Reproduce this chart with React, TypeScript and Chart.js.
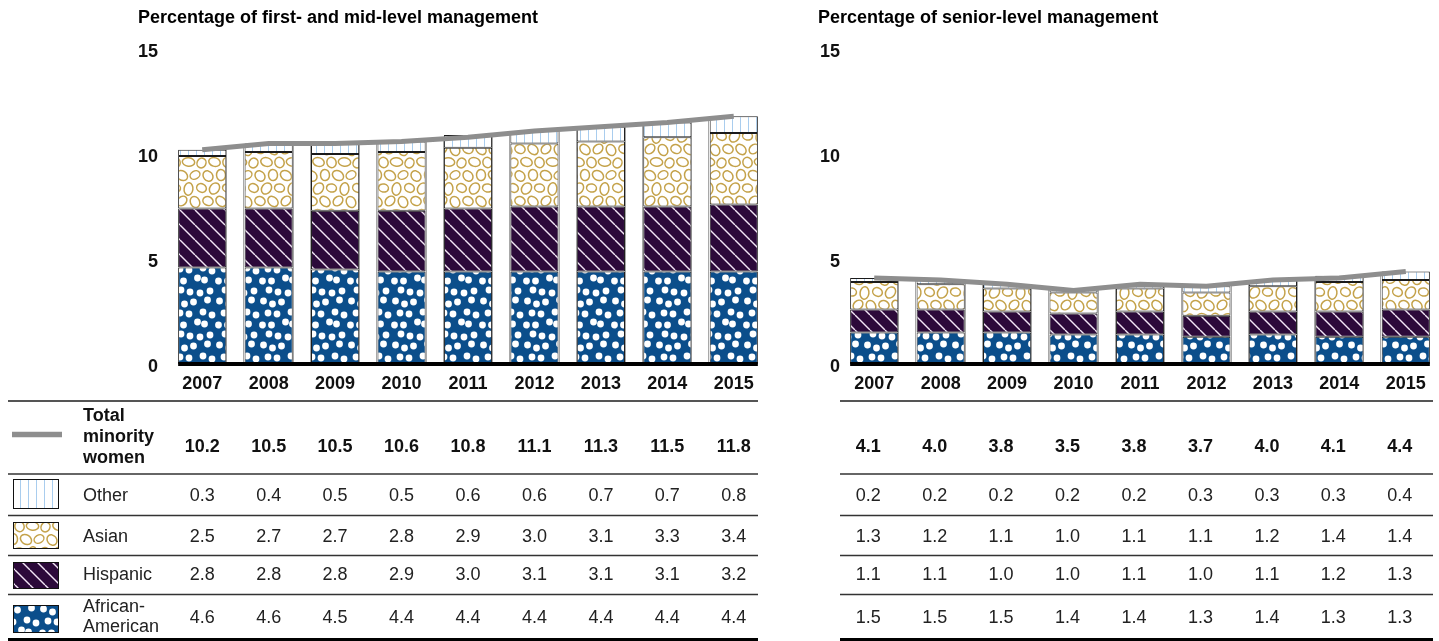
import React, { useEffect, useRef } from 'react';
import { Chart, registerables } from 'chart.js';

Chart.register(...registerables);

// ---------- DATA ----------
const YEARS = ['2007', '2008', '2009', '2010', '2011', '2012', '2013', '2014', '2015'];

const FIRST_TOTAL = [10.2, 10.5, 10.5, 10.6, 10.8, 11.1, 11.3, 11.5, 11.8];
const FIRST_OTHER = [0.3, 0.4, 0.5, 0.5, 0.6, 0.6, 0.7, 0.7, 0.8];
const FIRST_ASIAN = [2.5, 2.7, 2.7, 2.8, 2.9, 3.0, 3.1, 3.3, 3.4];
const FIRST_HISPANIC = [2.8, 2.8, 2.8, 2.9, 3.0, 3.1, 3.1, 3.1, 3.2];
const FIRST_AFRICAN = [4.6, 4.6, 4.5, 4.4, 4.4, 4.4, 4.4, 4.4, 4.4];

const SENIOR_TOTAL = [4.1, 4.0, 3.8, 3.5, 3.8, 3.7, 4.0, 4.1, 4.4];
const SENIOR_OTHER = [0.2, 0.2, 0.2, 0.2, 0.2, 0.3, 0.3, 0.3, 0.4];
const SENIOR_ASIAN = [1.3, 1.2, 1.1, 1.0, 1.1, 1.1, 1.2, 1.4, 1.4];
const SENIOR_HISPANIC = [1.1, 1.1, 1.0, 1.0, 1.1, 1.0, 1.1, 1.2, 1.3];
const SENIOR_AFRICAN = [1.5, 1.5, 1.5, 1.4, 1.4, 1.3, 1.4, 1.3, 1.3];

const Y_TICKS = [0, 5, 10, 15];
const TITLE_FIRST = 'Percentage of first- and mid-level management';
const TITLE_SENIOR = 'Percentage of senior-level management';
const ROW_LABELS = ['Other', 'Asian', 'Hispanic', 'African-American'];

// ---------- STYLE ----------
const FONT = "'Liberation Sans', Arial, Helvetica, sans-serif";
const LINE_GRAY = '#8e8e8e';
const BLUE = '#0b4e8b';
const PURPLE = '#2c0a3a';
const GOLD = '#c4a24a';
const LIGHT_BLUE = '#a9cdee';

function tile(w: number, h: number, draw: (c: CanvasRenderingContext2D) => void) {
  const cv = document.createElement('canvas');
  cv.width = w;
  cv.height = h;
  const c = cv.getContext('2d')!;
  draw(c);
  return c.createPattern(cv, 'repeat') as CanvasPattern;
}

function makePatterns() {
  const dots = tile(44, 44, (c) => {
    c.fillStyle = BLUE;
    c.fillRect(0, 0, 44, 44);
    c.fillStyle = '#ffffff';
    const jit = [
      [1, -1, 2, 0], [-1, 2, -2, 1], [2, 0, -1, -2], [0, -2, 1, 2],
    ];
    const jity = [
      [0, 1, -1, 2], [1, -2, 0, 1], [-1, 1, 2, 0], [2, 0, -2, -1],
    ];
    for (let i = 0; i < 4; i++) {
      for (let j = 0; j < 4; j++) {
        const x = 11 * i + (j % 2) * 5.5 + 3 + jit[j][i];
        const y = 11 * j + 5 + jity[j][i];
        for (const ox of [-44, 0, 44]) {
          for (const oy of [-44, 0, 44]) {
            c.beginPath();
            c.arc(x + ox, y + oy, 3.4, 0, Math.PI * 2);
            c.fill();
          }
        }
      }
    }
  });
  const stripes = tile(15, 15, (c) => {
    c.fillStyle = PURPLE;
    c.fillRect(0, 0, 15, 15);
    c.strokeStyle = '#f2e6f5';
    c.lineWidth = 1.4;
    for (const x of [-15, 0, 15]) {
      c.beginPath();
      c.moveTo(x, 0);
      c.lineTo(x + 15, 15);
      c.stroke();
    }
  });
  const blobs = tile(52, 52, (c) => {
    c.fillStyle = '#ffffff';
    c.fillRect(0, 0, 52, 52);
    c.strokeStyle = GOLD;
    c.lineWidth = 1.5;
    const E = [
      [6.5, 6, 5.8, 4.3, 0.3], [19.5, 6.5, 5.2, 4.6, 1.2], [32.5, 6, 6.2, 4.2, 0.1], [45.5, 7, 5.0, 4.4, 2.0],
      [13, 19, 5.6, 4.5, 1.5], [26, 19.5, 6.0, 4.6, 0.6], [39, 19, 5.2, 4.0, 2.6], [0, 20, 5.6, 4.6, 0.9],
      [6.5, 32.5, 6.0, 4.6, 2.2], [19.5, 32, 5.0, 4.0, 0.2], [32.5, 33, 6.2, 4.4, 1.7], [45.5, 32, 5.0, 4.2, 0.5],
      [13, 45.5, 5.8, 4.4, 0.8], [26, 45, 5.4, 4.2, 2.4], [39, 46, 5.8, 4.5, 1.1], [0, 45, 5.2, 4.4, 0.4],
    ];
    for (const [x, y, rx, ry, r] of E) {
      for (const ox of [-52, 0, 52]) {
        for (const oy of [-52, 0, 52]) {
          c.beginPath();
          c.ellipse(x + ox, y + oy, rx, ry, r, 0, Math.PI * 2);
          c.stroke();
        }
      }
    }
  });
  const vlines = tile(8, 8, (c) => {
    c.fillStyle = '#ffffff';
    c.fillRect(0, 0, 8, 8);
    c.strokeStyle = LIGHT_BLUE;
    c.lineWidth = 1;
    c.beginPath();
    c.moveTo(4.5, 0);
    c.lineTo(4.5, 8);
    c.stroke();
  });
  return { dots, stripes, blobs, vlines };
}

type Cfg = {
  title: string;
  titleX: number;
  totals: number[];
  other: number[];
  asian: number[];
  hispanic: number[];
  african: number[];
  yAxisWidth: number;
  yTickPad: number;
  padRight: number;
  legend: boolean;
  valueShift: number;
  tableLeft: number;
  tableRight: number;
};

const ROW_Y = { top: 401, total: 447, sep: [474, 515.5, 555.5, 594.5], rows: [496.5, 537, 575, 618], bottom: 639 };

function buildChart(canvas: HTMLCanvasElement, cfg: Cfg, P: ReturnType<typeof makePatterns>) {
  const barCommon = {
    type: 'bar' as const,
    borderColor: '#1a1a1a',
    borderWidth: 1,
    borderSkipped: false,
    stack: 'bars',
    order: 1,
    barPercentage: 0.725,
    categoryPercentage: 1,
  };

  const gapPlugin = {
    id: 'gapCols',
    beforeDatasetsDraw(chart: any) {
      const ctx = chart.ctx;
      const meta = chart.getDatasetMeta(1);
      const y = chart.scales.y;
      const bot = y.getPixelForValue(0);
      ctx.save();
      for (let i = 0; i < meta.data.length - 1; i++) {
        const a = meta.data[i];
        const b = meta.data[i + 1];
        const l = a.x + a.width / 2;
        const r = b.x - b.width / 2;
        const t = y.getPixelForValue((cfg.totals[i] + cfg.totals[i + 1]) / 2);
        ctx.fillStyle = '#ffffff';
        ctx.fillRect(l, t, r - l, bot - t);
        ctx.strokeStyle = '#a8a8a8';
        ctx.lineWidth = 1;
        ctx.strokeRect(Math.round(l) + 0.5, Math.round(t) + 0.5, Math.round(r - l) - 1, bot - t);
      }
      ctx.restore();
    },
    afterDatasetsDraw(chart: any) {
      const ctx = chart.ctx;
      const meta = chart.getDatasetMeta(1);
      const y = chart.scales.y;
      const bot = y.getPixelForValue(0);
      const first = meta.data[0];
      const last = meta.data[meta.data.length - 1];
      ctx.save();
      ctx.fillStyle = '#000';
      ctx.fillRect(first.x - first.width / 2, bot - 2, last.x + last.width / 2 - (first.x - first.width / 2), 4);
      ctx.restore();
    },
  };

  const tablePlugin = {
    id: 'table',
    afterDraw(chart: any) {
      const ctx = chart.ctx as CanvasRenderingContext2D;
      const x = chart.scales.x;
      ctx.save();
      // title
      ctx.fillStyle = '#000';
      ctx.font = `bold 18px ${FONT}`;
      ctx.textAlign = 'left';
      ctx.textBaseline = 'alphabetic';
      ctx.fillText(cfg.title, cfg.titleX, 23);

      // rules
      const L = cfg.tableLeft;
      const R = cfg.tableRight;
      ctx.strokeStyle = '#555';
      ctx.lineWidth = 2;
      ctx.beginPath();
      ctx.moveTo(L, ROW_Y.top);
      ctx.lineTo(R, ROW_Y.top);
      ctx.stroke();
      ctx.strokeStyle = '#333';
      ctx.lineWidth = 1.6;
      for (const s of ROW_Y.sep) {
        ctx.beginPath();
        ctx.moveTo(L, s);
        ctx.lineTo(R, s);
        ctx.stroke();
      }
      ctx.fillStyle = '#000';
      ctx.fillRect(L, ROW_Y.bottom - 1, R - L, 4);

      // values
      ctx.textAlign = 'center';
      ctx.textBaseline = 'middle';
      const rows = [cfg.other, cfg.asian, cfg.hispanic, cfg.african];
      for (let i = 0; i < YEARS.length; i++) {
        const cx = x.getPixelForValue(i) + cfg.valueShift;
        ctx.font = `bold 18px ${FONT}`;
        ctx.fillStyle = '#111';
        ctx.fillText(cfg.totals[i].toFixed(1), cx, ROW_Y.total);
        ctx.font = `18px ${FONT}`;
        ctx.fillStyle = '#222';
        rows.forEach((arr, r) => {
          ctx.fillText(arr[i].toFixed(1), cx, ROW_Y.rows[r]);
        });
      }

      if (cfg.legend) {
        // line swatch
        ctx.strokeStyle = LINE_GRAY;
        ctx.lineWidth = 5.5;
        ctx.beginPath();
        ctx.moveTo(12, 434.5);
        ctx.lineTo(62, 434.5);
        ctx.stroke();
        ctx.textAlign = 'left';
        ctx.font = `bold 18px ${FONT}`;
        ctx.fillStyle = '#111';
        ctx.fillText('Total', 83, 416);
        ctx.fillText('minority', 83, 437);
        ctx.fillText('women', 83, 458);
        const sw = [
          { p: P.vlines, y: 479, h: 29 },
          { p: P.blobs, y: 522, h: 26 },
          { p: P.stripes, y: 562, h: 26 },
          { p: P.dots, y: 605, h: 27 },
        ];
        sw.forEach((s) => {
          ctx.fillStyle = s.p;
          ctx.fillRect(13, s.y, 46, s.h);
          ctx.strokeStyle = '#111';
          ctx.lineWidth = 1;
          ctx.strokeRect(13.5, s.y + 0.5, 45, s.h);
        });
        ctx.font = `18px ${FONT}`;
        ctx.fillStyle = '#222';
        ctx.fillText(ROW_LABELS[0], 83, ROW_Y.rows[0]);
        ctx.fillText(ROW_LABELS[1], 83, ROW_Y.rows[1]);
        ctx.fillText(ROW_LABELS[2], 83, ROW_Y.rows[2]);
        const parts = ROW_LABELS[3].split('-');
        ctx.fillText(parts[0] + '-', 83, 607);
        ctx.fillText(parts[1], 83, 627);
      }
      ctx.restore();
    },
  };

  return new Chart(canvas, {
    type: 'bar',
    data: {
      labels: YEARS,
      datasets: [
        {
          type: 'line',
          label: 'Total minority women',
          data: cfg.totals,
          borderColor: LINE_GRAY,
          borderWidth: 5,
          pointRadius: 0,
          tension: 0,
          fill: false,
          stack: 'total',
          order: 0,
        } as any,
        { ...barCommon, label: 'African-American', data: cfg.african, backgroundColor: P.dots },
        { ...barCommon, label: 'Hispanic', data: cfg.hispanic, backgroundColor: P.stripes },
        { ...barCommon, label: 'Asian', data: cfg.asian, backgroundColor: P.blobs },
        { ...barCommon, label: 'Other', data: cfg.other, backgroundColor: P.vlines },
      ],
    },
    options: {
      responsive: false,
      animation: false,
      events: [],
      layout: { padding: { top: 49, left: 0, right: cfg.padRight, bottom: 0 } },
      plugins: {
        legend: { display: false },
        tooltip: { enabled: false },
        title: { display: false },
      },
      scales: {
        x: {
          stacked: true,
          grid: { display: false, drawTicks: false },
          border: { display: false },
          ticks: {
            color: '#111',
            font: { family: FONT, size: 18, weight: 'bold' },
            padding: 9,
            maxRotation: 0,
          },
          afterFit: (s: any) => {
            s.height = 277;
          },
        },
        y: {
          stacked: true,
          min: Y_TICKS[0],
          max: Y_TICKS[Y_TICKS.length - 1],
          grid: { display: false, drawTicks: false },
          border: { display: false },
          afterBuildTicks: (s: any) => {
            s.ticks = Y_TICKS.map((v) => ({ value: v }));
          },
          ticks: {
            color: '#111',
            font: { family: FONT, size: 18, weight: 'bold' },
            padding: cfg.yTickPad,
            labelOffset: 3,
          },
          afterFit: (s: any) => {
            s.width = cfg.yAxisWidth;
          },
        },
      },
    },
    plugins: [gapPlugin, tablePlugin],
  } as any);
}

export default function App() {
  const leftRef = useRef<HTMLCanvasElement>(null);
  const rightRef = useRef<HTMLCanvasElement>(null);

  useEffect(() => {
    Chart.defaults.font.family = FONT;
    const P = makePatterns();
    const a = buildChart(
      leftRef.current!,
      {
        title: TITLE_FIRST,
        titleX: 138,
        totals: FIRST_TOTAL,
        other: FIRST_OTHER,
        asian: FIRST_ASIAN,
        hispanic: FIRST_HISPANIC,
        african: FIRST_AFRICAN,
        yAxisWidth: 169,
        yTickPad: 11,
        padRight: 13,
        legend: true,
        valueShift: 0,
        tableLeft: 8,
        tableRight: 758,
      },
      P
    );
    const b = buildChart(
      rightRef.current!,
      {
        title: TITLE_SENIOR,
        titleX: 38,
        totals: SENIOR_TOTAL,
        other: SENIOR_OTHER,
        asian: SENIOR_ASIAN,
        hispanic: SENIOR_HISPANIC,
        african: SENIOR_AFRICAN,
        yAxisWidth: 61,
        yTickPad: 1,
        padRight: 0,
        legend: false,
        valueShift: -6,
        tableLeft: 60,
        tableRight: 653,
      },
      P
    );
    return () => {
      a.destroy();
      b.destroy();
    };
  }, []);

  return (
    <div style={{ position: 'fixed', left: 0, top: 0, width: 1439, height: 641, background: '#fff' }}>
      <canvas ref={leftRef} width={780} height={641} style={{ position: 'absolute', left: 0, top: 0 }} />
      <canvas ref={rightRef} width={659} height={641} style={{ position: 'absolute', left: 780, top: 0 }} />
    </div>
  );
}
